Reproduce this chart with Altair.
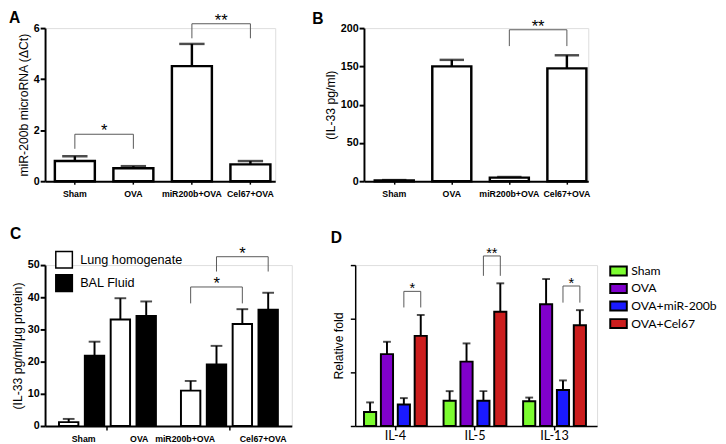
import altair as alt
import pandas as pd

FONT = "Liberation Sans"
DFONT = "Lato"

# ---------------- data ----------------
groups = ["Sham", "OVA", "miR200b+OVA", "Cel67+OVA"]

# Panel A  (miR-200b microRNA, ΔCt)
a_mean = [0.79, 0.51, 4.51, 0.66]
a_sem = [0.19, 0.08, 0.87, 0.13]
a_sig_from = ["Sham", "miR200b+OVA"]
a_sig_to = ["OVA", "Cel67+OVA"]
a_sig_top = [1.84, 6.17]
a_sig_leg = [1.27, 5.60]
a_sig_text = ["*", "**"]

# Panel B  (IL-33 pg/ml)
b_mean = [1.0, 150.0, 4.7, 147.4]
b_sem = [0.5, 8.5, 0.8, 17.1]
b_sig_from = ["miR200b+OVA"]
b_sig_to = ["Cel67+OVA"]
b_sig_top = [197.8]
b_sig_leg = [176.5]
b_sig_text = ["**"]

# Panel C  (IL-33 pg/ml/µg protein)
c_fluids = ["Lung homogenate", "BAL Fluid"]
c_lung_mean = [1.2, 33.1, 11.0, 31.7]
c_lung_sem = [1.0, 6.6, 3.0, 4.6]
c_bal_mean = [21.8, 34.2, 19.1, 36.1]
c_bal_sem = [4.4, 4.5, 5.8, 5.3]
c_sig_fluid = ["Lung homogenate", "BAL Fluid"]
c_sig_from = ["miR200b+OVA", "miR200b+OVA"]
c_sig_to = ["Cel67+OVA", "Cel67+OVA"]
c_sig_top = [43.2, 52.6]
c_sig_leg = [38.1, 48.0]
c_sig_text = ["*", "*"]

# Panel D  (Relative fold)
cytokines = ["IL-4", "IL-5", "IL-13"]
treatments = ["Sham", "OVA", "OVA+miR-200b", "OVA+Cel67"]
d_colors = ["#7CFC30", "#8000CC", "#1A1AFF", "#CC1E1E"]
d_sham = [0.26, 0.47, 0.46]
d_sham_sem = [0.18, 0.18, 0.07]
d_ova = [1.34, 1.20, 2.27]
d_ova_sem = [0.23, 0.34, 0.47]
d_mir = [0.40, 0.47, 0.67]
d_mir_sem = [0.12, 0.18, 0.18]
d_cel = [1.68, 2.13, 1.88]
d_cel_sem = [0.39, 0.53, 0.28]
d_sig_cyt = ["IL-4", "IL-5", "IL-13"]
d_sig_from = ["OVA+miR-200b"] * 3
d_sig_to = ["OVA+Cel67"] * 3
d_sig_top = [2.51, 3.17, 2.61]
d_sig_leg = [2.21, 2.80, 2.30]
d_sig_text = ["*", "**", "*"]

# ---------------- styles ----------------
YAX = dict(labelFont=FONT, labelFontWeight="bold", labelFontSize=11, labelColor="black",
           titleFont=FONT, titleFontWeight="normal", titleFontSize=12.5, titleColor="black",
           domainColor="black", domainWidth=2, tickColor="black", tickWidth=2, tickSize=5,
           labelPadding=1, titlePadding=3, grid=False)
XAX = dict(labelAngle=0, labelFont=FONT, labelFontWeight="bold", labelFontSize=9, labelColor="black",
           domainColor="black", domainWidth=2, tickColor="black", tickWidth=1.5, tickSize=3,
           labelPadding=6, grid=False, title=None)
BR_COLOR = "#555555"


def letter(t, dx, dy):
    return alt.TitleParams(t, anchor="start", frame="group", dx=dx, dy=dy, offset=0,
                           font=FONT, fontSize=16, fontWeight="bold", color="black")


def bracket_rows(keys_from, keys_to, tops, legs):
    rows = []
    for i, (kf, kt, tp, lg) in enumerate(zip(keys_from, keys_to, tops, legs)):
        rows.append(dict(id=i, o=0, y=lg, **kf))
        rows.append(dict(id=i, o=1, y=tp, **kf))
        rows.append(dict(id=i, o=2, y=tp, **kt))
        rows.append(dict(id=i, o=3, y=lg, **kt))
    return pd.DataFrame(rows)


def simple_panel(lt, ldx, ldy, mean, sem, sfrom, sto, stop, sleg, stext, ytitle, ydom, yvals,
                 W, H, pin, pout, palign, cap, star_dx):
    df = pd.DataFrame({"group": groups, "mean": mean, "sem": sem})
    df["upper"] = df["mean"] + df["sem"]
    xs = alt.Scale(domain=groups, paddingInner=pin, paddingOuter=pout, align=palign)
    ys = alt.Scale(domain=ydom, nice=False)

    def X():
        return alt.X("group:N", scale=xs, axis=alt.Axis(**XAX))

    def Y(f):
        return alt.Y(f"{f}:Q", title=ytitle, scale=ys, axis=alt.Axis(values=yvals, **YAX))

    base = alt.Chart(df)
    err = base.mark_rule(color="black", strokeWidth=2.5).encode(x=X(), y=Y("mean"), y2="upper:Q")
    capm = base.mark_tick(color="black", orient="horizontal", size=cap, thickness=2.5).encode(
        x=X(), y=Y("upper"))
    bars = base.mark_bar(fill="white", stroke="black", strokeWidth=2.5).encode(x=X(), y=Y("mean"))
    brdf = bracket_rows([{"group": g} for g in sfrom], [{"group": g} for g in sto], stop, sleg)
    lines = alt.Chart(brdf).mark_line(color=BR_COLOR, strokeWidth=1).encode(
        x=X(), y=Y("y"), detail="id:N", order="o:Q")
    stdf = pd.DataFrame({"group": sfrom, "y": stop, "t": stext})
    stars = alt.Chart(stdf).mark_text(font=FONT, fontSize=17, color="black", baseline="alphabetic",
                                      dx=star_dx, dy=2).encode(x=X(), y=Y("y"), text="t:N")
    return alt.layer(err, capm, bars, lines, stars).properties(
        width=W, height=H, title=letter(lt, ldx, ldy))


A_W, A_H = 236, 157
B_W, B_H = 230, 157
C_W, C_H = 253, 165
D_W, D_H = 248, 165

chartA = simple_panel("A", -37, 14, a_mean, a_sem, a_sig_from, a_sig_to, a_sig_top, a_sig_leg,
                      a_sig_text, "miR-200b microRNA (ΔCt)", [0, 6], [0, 2, 4, 6],
                      A_W, A_H, 0.317, 0.125, 0.67, 26, 30)
chartB = simple_panel("B", -53, 9, b_mean, b_sem, b_sig_from, b_sig_to, b_sig_top, b_sig_leg,
                      b_sig_text, "(IL-33 pg/ml)", [0, 200], [0, 50, 100, 150, 200],
                      B_W, B_H, 0.322, 0.11, 0.85, 25, 29.5)

# ---------------- panel C ----------------
C_PITCH = 26.7
rows = []
for i, g in enumerate(groups):
    for fl, m, s in ((c_fluids[0], c_lung_mean[i], c_lung_sem[i]),
                     (c_fluids[1], c_bal_mean[i], c_bal_sem[i])):
        rows.append(dict(group=g, cluster=f"c{i // 2}", slot=f"{i % 2}|{fl}", fluid=fl,
                         mean=m, upper=m + s))
dfC = pd.DataFrame(rows)
c_clusters = ["c0", "c1"]
c_slots = [f"{p}|{fl}" for p in (0, 1) for fl in c_fluids]
xsC = alt.Scale(domain=c_clusters, paddingInner=0.163, paddingOuter=0.093, align=0.5)
xoC = alt.Scale(domain=c_slots, paddingInner=0.25, paddingOuter=0.1)
ysC = alt.Scale(domain=[0, 50], nice=False)


def XC():
    return alt.X("cluster:N", scale=xsC, axis=alt.Axis(**{**XAX, "labels": False, "tickSize": 4}))


def XOC():
    return alt.XOffset("slot:N", scale=xoC)


def YC(f):
    return alt.Y(f"{f}:Q", title="(IL-33 pg/ml/μg protein)", scale=ysC,
                 axis=alt.Axis(values=[0, 10, 20, 30, 40, 50], **YAX))


baseC = alt.Chart(dfC)
errC = baseC.mark_rule(color="black", strokeWidth=2).encode(x=XC(), xOffset=XOC(), y=YC("mean"),
                                                            y2="upper:Q")
capC = baseC.mark_tick(color="black", orient="horizontal", size=12, thickness=2).encode(
    x=XC(), xOffset=XOC(), y=YC("upper"))
barsC = baseC.mark_bar(stroke="black", strokeWidth=2).encode(
    x=XC(), xOffset=XOC(), y=YC("mean"),
    fill=alt.Fill("fluid:N", scale=alt.Scale(domain=c_fluids, range=["white", "black"]),
                  legend=alt.Legend(title=None, orient="none", legendX=10, legendY=-15,
                                    symbolType="square", symbolSize=289, symbolStrokeColor="black",
                                    symbolStrokeWidth=1.5, labelFont=FONT, labelFontSize=13,
                                    labelColor="black", rowPadding=1, labelOffset=7, padding=0)))


def ckey(g, fl):
    i = groups.index(g)
    return {"cluster": f"c{i // 2}", "slot": f"{i % 2}|{fl}"}


brC = bracket_rows([ckey(g, fl) for g, fl in zip(c_sig_from, c_sig_fluid)],
                   [ckey(g, fl) for g, fl in zip(c_sig_to, c_sig_fluid)], c_sig_top, c_sig_leg)
linesC = alt.Chart(brC).mark_line(color=BR_COLOR, strokeWidth=1).encode(
    x=XC(), xOffset=XOC(), y=YC("y"), detail="id:N", order="o:Q")
stC = pd.DataFrame([dict(**ckey(g, fl), y=t, t=s) for g, fl, t, s in
                    zip(c_sig_from, c_sig_fluid, c_sig_top, c_sig_text)])
starsC = alt.Chart(stC).mark_text(font=FONT, fontSize=17, color="black", baseline="alphabetic",
                                  dx=C_PITCH, dy=2).encode(x=XC(), xOffset=XOC(), y=YC("y"),
                                                           text="t:N")
label_nudge = [2, 6, -19, 8]
labC = []
for i, g in enumerate(groups):
    d = pd.DataFrame([dict(**ckey(g, c_fluids[0]), t=g)])
    labC.append(alt.Chart(d).mark_text(font=FONT, fontSize=9, fontWeight="bold", color="black",
                                       baseline="top", dx=C_PITCH / 2 + label_nudge[i]).encode(
        x=XC(), xOffset=XOC(), y=alt.value(C_H + 9), text="t:N"))
chartC = alt.layer(errC, capC, barsC, linesC, starsC, *labC).properties(
    width=C_W, height=C_H, title=letter("C", -36, -3))

# ---------------- panel D ----------------
D_PITCH = 17.3
dvals = [(d_sham, d_sham_sem), (d_ova, d_ova_sem), (d_mir, d_mir_sem), (d_cel, d_cel_sem)]
rows = []
for j, c in enumerate(cytokines):
    for t, (m, s) in zip(treatments, dvals):
        rows.append(dict(cyt=c, trt=t, mean=m[j], upper=m[j] + s[j]))
dfD = pd.DataFrame(rows)
xsD = alt.Scale(domain=cytokines, paddingInner=0.168, paddingOuter=0.104, align=0.43)
xoD = alt.Scale(domain=treatments, paddingInner=0.28, paddingOuter=0.1)
ysD = alt.Scale(domain=[0, 3], nice=False)
XAXD = dict(labelAngle=0, labelFont=DFONT, labelFontSize=13, labelColor="black", domainColor="black",
            domainWidth=1.5, tickColor="black", tickWidth=1.5, tickSize=4, labelPadding=0,
            grid=False, title=None)
YAXD = dict(labels=False, domainColor="black", domainWidth=1.5, tickColor="black", tickWidth=1.5,
            tickSize=5, titleFont=FONT, titleFontWeight="normal", titleFontSize=12.5,
            titleColor="black", titlePadding=4, grid=False, values=[0, 1, 2, 3])


def XD():
    return alt.X("cyt:N", scale=xsD, axis=alt.Axis(**XAXD))


def XOD():
    return alt.XOffset("trt:N", scale=xoD)


def YD(f):
    return alt.Y(f"{f}:Q", title="Relative fold", scale=ysD, axis=alt.Axis(**YAXD))


baseD = alt.Chart(dfD)
errD = baseD.mark_rule(color="black", strokeWidth=2).encode(x=XD(), xOffset=XOD(), y=YD("mean"),
                                                            y2="upper:Q")
capD = baseD.mark_tick(color="black", orient="horizontal", size=8, thickness=2).encode(
    x=XD(), xOffset=XOD(), y=YD("upper"))
barsD = baseD.mark_bar(stroke="black", strokeWidth=2).encode(
    x=XD(), xOffset=XOD(), y=YD("mean"),
    fill=alt.Fill("trt:N", scale=alt.Scale(domain=treatments, range=d_colors),
                  legend=alt.Legend(title=None, orient="none", legendX=261, legendY=-3,
                                    symbolType="M-1.11,-0.6H1.11V0.6H-1.11Z", symbolSize=234,
                                    symbolStrokeColor="black", symbolStrokeWidth=2,
                                    labelFont=DFONT, labelFontSize=12.5, labelColor="black",
                                    rowPadding=0, labelOffset=4, padding=0)))
brD = bracket_rows([{"cyt": c, "trt": t} for c, t in zip(d_sig_cyt, d_sig_from)],
                   [{"cyt": c, "trt": t} for c, t in zip(d_sig_cyt, d_sig_to)], d_sig_top, d_sig_leg)
linesD = alt.Chart(brD).mark_line(color=BR_COLOR, strokeWidth=1).encode(
    x=XD(), xOffset=XOD(), y=YD("y"), detail="id:N", order="o:Q")
stD = pd.DataFrame({"cyt": d_sig_cyt, "trt": d_sig_from, "y": d_sig_top, "t": d_sig_text})
starsD = alt.Chart(stD).mark_text(font=FONT, fontSize=15, color="black", baseline="alphabetic",
                                  dx=D_PITCH / 2, dy=2).encode(x=XD(), xOffset=XOD(), y=YD("y"),
                                                               text="t:N")
chartD = alt.layer(errD, capD, barsD, linesD, starsD).properties(
    width=D_W, height=D_H, title=letter("D", -25, 0))

row1 = alt.hconcat(chartA, chartB, spacing=91, bounds="flush")
row2 = alt.hconcat(chartC, chartD, spacing=65, bounds="flush").resolve_scale(
    fill="independent", xOffset="independent").resolve_legend(fill="independent")
chart = alt.vconcat(row1, row2, spacing=26).resolve_scale(
    fill="independent", xOffset="independent").resolve_legend(fill="independent").properties(
    padding={"left": 0, "right": 0, "top": -4, "bottom": 0}
).configure_view(stroke=None).configure(background="white")

chart.save("out.html", embed_options={"renderer": "svg", "actions": False})
